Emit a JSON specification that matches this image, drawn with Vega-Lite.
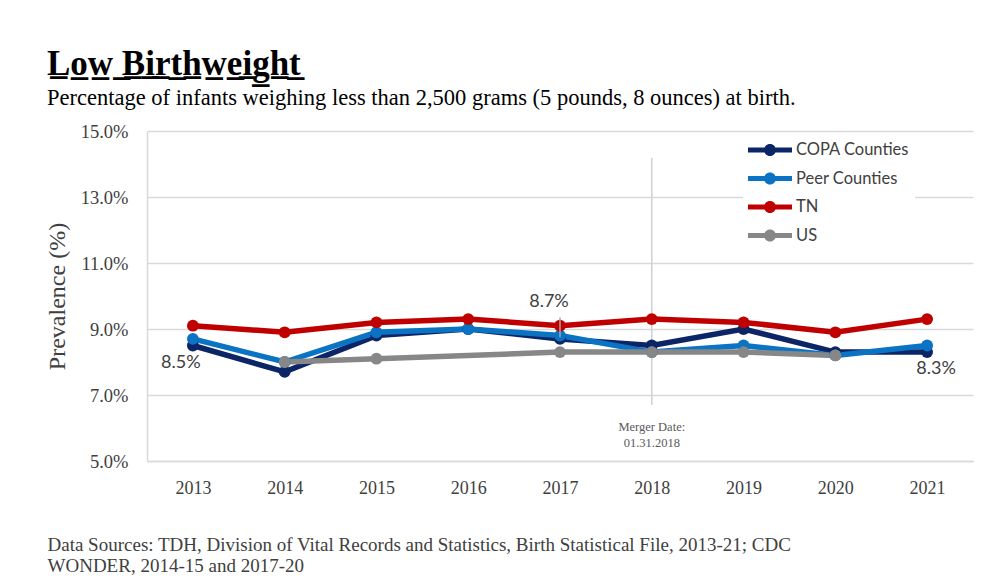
{
  "$schema": "https://vega.github.io/schema/vega-lite/v6.json",
  "width": 826,
  "height": 330,
  "autosize": {"type": "none"},
  "padding": {"left": 147, "top": 131, "right": 10, "bottom": 119},
  "background": "white",
  "title": {
    "text": "L̲o̲w̲ ̲B̲i̲r̲t̲h̲w̲e̲i̲g̲h̲t̲",
    "subtitle": "Percentage of infants weighing less than 2,500 grams (5 pounds, 8 ounces) at birth.",
    "anchor": "start",
    "frame": "group",
    "dx": -100,
    "offset": 13,
    "font": "Liberation Serif",
    "fontSize": 35,
    "fontWeight": "bold",
    "color": "#000000",
    "subtitleFont": "Liberation Serif",
    "subtitleFontSize": 22.5,
    "subtitleColor": "#000000",
    "subtitlePadding": 5
  },
  "datasets": {
    "series": [
      {"year": "2013", "group": "COPA Counties", "value": 8.5},
      {"year": "2014", "group": "COPA Counties", "value": 7.7},
      {"year": "2015", "group": "COPA Counties", "value": 8.8},
      {"year": "2016", "group": "COPA Counties", "value": 9.0},
      {"year": "2017", "group": "COPA Counties", "value": 8.7},
      {"year": "2018", "group": "COPA Counties", "value": 8.5},
      {"year": "2019", "group": "COPA Counties", "value": 9.0},
      {"year": "2020", "group": "COPA Counties", "value": 8.3},
      {"year": "2021", "group": "COPA Counties", "value": 8.3},
      {"year": "2013", "group": "Peer Counties", "value": 8.7},
      {"year": "2014", "group": "Peer Counties", "value": 8.0},
      {"year": "2015", "group": "Peer Counties", "value": 8.9},
      {"year": "2016", "group": "Peer Counties", "value": 9.0},
      {"year": "2017", "group": "Peer Counties", "value": 8.8},
      {"year": "2018", "group": "Peer Counties", "value": 8.3},
      {"year": "2019", "group": "Peer Counties", "value": 8.5},
      {"year": "2020", "group": "Peer Counties", "value": 8.2},
      {"year": "2021", "group": "Peer Counties", "value": 8.5},
      {"year": "2013", "group": "TN", "value": 9.1},
      {"year": "2014", "group": "TN", "value": 8.9},
      {"year": "2015", "group": "TN", "value": 9.2},
      {"year": "2016", "group": "TN", "value": 9.3},
      {"year": "2017", "group": "TN", "value": 9.1},
      {"year": "2018", "group": "TN", "value": 9.3},
      {"year": "2019", "group": "TN", "value": 9.2},
      {"year": "2020", "group": "TN", "value": 8.9},
      {"year": "2021", "group": "TN", "value": 9.3},
      {"year": "2014", "group": "US", "value": 8.0},
      {"year": "2015", "group": "US", "value": 8.1},
      {"year": "2017", "group": "US", "value": 8.3},
      {"year": "2018", "group": "US", "value": 8.3},
      {"year": "2019", "group": "US", "value": 8.3},
      {"year": "2020", "group": "US", "value": 8.2}
    ],
    "labels": [
      {"year": "2013", "value": 8.5, "label": "8.5%"},
      {"year": "2017", "value": 8.7, "label": "8.7%"},
      {"year": "2021", "value": 8.3, "label": "8.3%"}
    ],
    "leader": [
      {"year": "2017", "from": 8.75, "to": 9.35}
    ],
    "merger": [
      {"year": "2018", "top": 14.18, "bottom": 6.7}
    ],
    "mergerText": [
      {"year": "2018", "value": 6.03, "text": "Merger Date:"},
      {"year": "2018", "value": 5.55, "text": "01.31.2018"}
    ]
  },
  "encoding": {
    "x": {
      "field": "year",
      "type": "ordinal",
      "scale": {"type": "point", "padding": 0.5, "domain": ["2013","2014","2015","2016","2017","2018","2019","2020","2021"]},
      "axis": {
        "title": ["Data Sources: TDH, Division of Vital Records and Statistics, Birth Statistical File, 2013-21; CDC", "WONDER, 2014-15 and 2017-20"],
        "titleAnchor": "start",
        "titleAlign": "left",
        "titleBaseline": "top",
        "titleX": -100,
        "titleY": 74,
        "titleFont": "Liberation Serif",
        "titleFontSize": 19,
        "titleFontWeight": "normal",
        "titleColor": "#404040",
        "titleLineHeight": 21,
        "labelAngle": 0,
        "labelFont": "Liberation Serif",
        "labelFontSize": 18,
        "labelColor": "#404040",
        "labelPadding": 18,
        "ticks": false,
        "grid": false,
        "domain": true,
        "domainColor": "#d9d9d9",
        "domainWidth": 1.5
      }
    }
  },
  "layer": [
    {
      "data": {"name": "merger"},
      "mark": {"type": "rule", "color": "#d0d0d0", "strokeWidth": 1.5},
      "encoding": {
        "y": {"field": "top", "type": "quantitative"},
        "y2": {"field": "bottom"}
      }
    },
    {
      "data": {"name": "mergerText"},
      "mark": {"type": "text", "font": "Liberation Serif", "fontSize": 12.5, "color": "#595959", "baseline": "middle"},
      "encoding": {
        "y": {"field": "value", "type": "quantitative"},
        "text": {"field": "text"}
      }
    },
    {
      "data": {"name": "series"},
      "mark": {"type": "line", "strokeWidth": 5.5},
      "encoding": {
        "y": {
          "field": "value",
          "type": "quantitative",
          "scale": {"domain": [5, 15], "nice": false, "zero": false},
          "axis": {
            "values": [5, 7, 9, 11, 13, 15],
            "labelExpr": "format(datum.value, '.1f') + '%'",
            "title": "Prevalence (%)",
            "titleFont": "Liberation Serif",
            "titleFontSize": 24,
            "titleFontWeight": "normal",
            "titleColor": "#404040",
            "titleAngle": -90,
            "titleX": -90,
            "titleY": 165,
            "titleAlign": "center",
            "titleBaseline": "middle",
            "labelFont": "Liberation Serif",
            "labelFontSize": 18.5,
            "labelColor": "#404040",
            "labelPadding": 19,
            "ticks": false,
            "grid": true,
            "gridColor": "#d9d9d9",
            "gridWidth": 1.5,
            "domain": true,
            "domainColor": "#d9d9d9",
            "domainWidth": 1.5
          }
        },
        "color": {
          "field": "group",
          "type": "nominal",
          "scale": {
            "domain": ["COPA Counties", "Peer Counties", "TN", "US"],
            "range": ["#0b2566", "#0a73c4", "#c00000", "#878787"]
          },
          "legend": {
            "title": null,
            "orient": "none",
            "legendX": 596,
            "legendY": 4,
            "fillColor": "white",
            "padding": 5,
            "rowPadding": 9.5,
            "labelFont": "Lato",
            "labelFontSize": 16.5,
            "labelColor": "#404040",
            "labelOffset": 28,
            "symbolType": "M-1,-0.26H3.4V0.26H-1Z M1.8,0 A0.6,0.6 0 1,1 0.6,0 A0.6,0.6 0 1,1 1.8,0 Z",
            "symbolSize": 400,
            "symbolStrokeWidth": 0,
            "encode": {
              "symbols": {
                "update": {
                  "fill": {"scale": "color", "field": "value"},
                  "strokeWidth": {"value": 0}
                }
              }
            }
          }
        }
      }
    },
    {
      "data": {"name": "series"},
      "mark": {"type": "point", "filled": true, "size": 140, "opacity": 1},
      "encoding": {
        "y": {"field": "value", "type": "quantitative"},
        "color": {"field": "group", "type": "nominal"}
      }
    },
    {
      "data": {"name": "leader"},
      "mark": {"type": "rule", "color": "#a6a6a6", "strokeWidth": 1.5},
      "encoding": {
        "y": {"field": "from", "type": "quantitative"},
        "y2": {"field": "to"}
      }
    },
    {
      "data": {"name": "labels"},
      "transform": [{"filter": "datum.year == '2013'"}],
      "mark": {"type": "text", "font": "Lato", "fontSize": 18, "color": "#404040", "dx": -12, "dy": 17},
      "encoding": {
        "y": {"field": "value", "type": "quantitative"},
        "text": {"field": "label"}
      }
    },
    {
      "data": {"name": "labels"},
      "transform": [{"filter": "datum.year == '2017'"}],
      "mark": {"type": "text", "font": "Lato", "fontSize": 18, "color": "#404040", "dx": -11, "dy": -37},
      "encoding": {
        "y": {"field": "value", "type": "quantitative"},
        "text": {"field": "label"}
      }
    },
    {
      "data": {"name": "labels"},
      "transform": [{"filter": "datum.year == '2021'"}],
      "mark": {"type": "text", "font": "Lato", "fontSize": 18, "color": "#404040", "dx": 9, "dy": 17},
      "encoding": {
        "y": {"field": "value", "type": "quantitative"},
        "text": {"field": "label"}
      }
    }
  ],
  "config": {
    "view": {"stroke": null}
  }
}
